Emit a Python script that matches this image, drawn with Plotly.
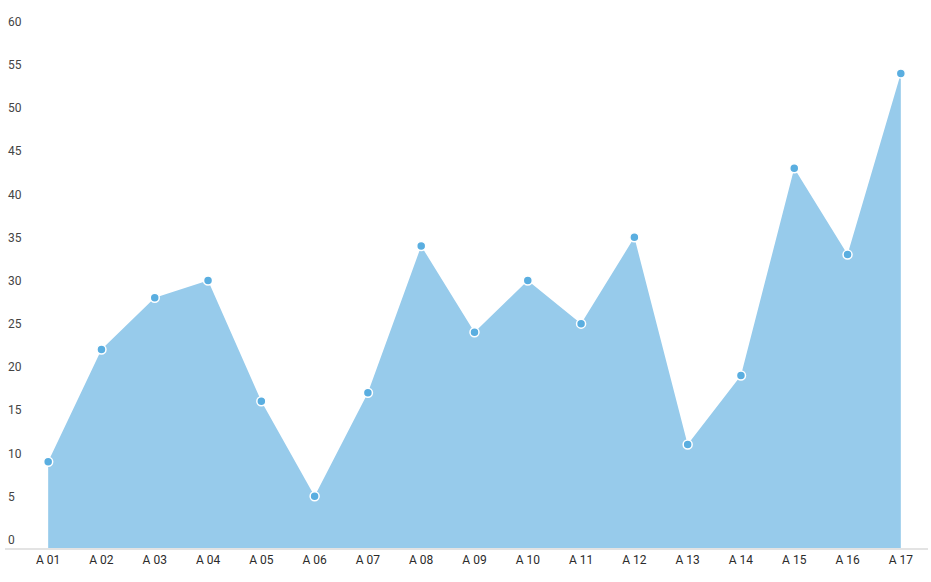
import plotly.graph_objects as go

categories = ["A 01", "A 02", "A 03", "A 04", "A 05", "A 06", "A 07", "A 08", "A 09",
              "A 10", "A 11", "A 12", "A 13", "A 14", "A 15", "A 16", "A 17"]
values = [10, 23, 29, 31, 17, 6, 18, 35, 25, 31, 26, 36, 12, 20, 44, 34, 55]
y_ticks = [0, 5, 10, 15, 20, 25, 30, 35, 40, 45, 50, 55, 60]

xs = list(range(len(categories)))

fig = go.Figure()
fig.add_trace(go.Scatter(
    x=xs, y=values,
    mode="lines+markers",
    fill="tozeroy",
    fillcolor="#97CBEB",
    line=dict(width=0, color="#97CBEB"),
    marker=dict(size=9, color="#5AAEE0", line=dict(color="white", width=1.5)),
    hoverinfo="x+y",
))

fig.update_layout(
    width=931, height=582,
    margin=dict(l=5, r=3, t=13, b=34),
    paper_bgcolor="white", plot_bgcolor="white",
    showlegend=False,
    font=dict(family="Roboto", size=12, color="#2b2b2b"),
)
fig.update_xaxes(
    range=[-0.81, 16.51],
    tickmode="array", tickvals=xs, ticktext=categories,
    showgrid=False, zeroline=False,
    showline=True, linecolor="#e3e3e3", linewidth=2,
    ticks="", ticklabelstandoff=0,
)
fig.update_yaxes(
    range=[0, 62],
    tickmode="array", tickvals=y_ticks, ticktext=[str(v) for v in y_ticks],
    showgrid=False, zeroline=False, showline=False,
    ticks="", ticklabelposition="inside top",
)

fig.write_html("out.html", config={"displayModeBar": False},
               post_script="document.body.style.margin='0';")
